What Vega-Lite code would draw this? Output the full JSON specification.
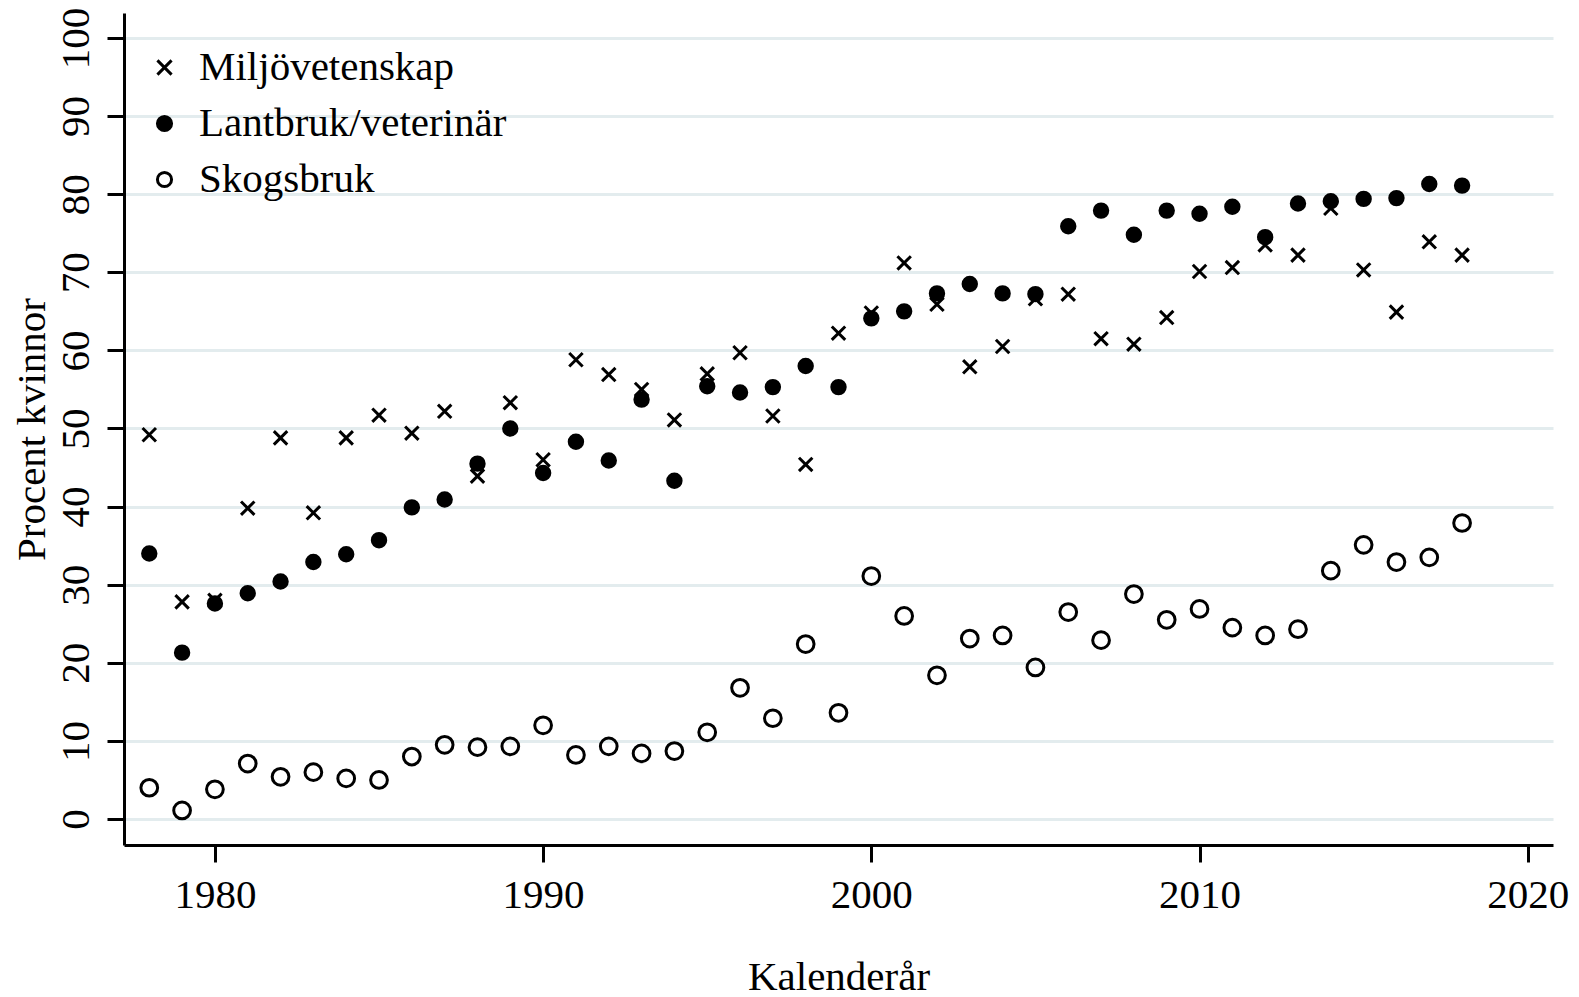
{
  "$schema": "https://vega.github.io/schema/vega-lite/v6.json",
  "width": 1429,
  "height": 832,
  "autosize": {"type": "none"},
  "padding": {"left": 124, "top": 13, "right": 26, "bottom": 152},
  "background": "white",
  "config": {
    "font": "Liberation Serif",
    "view": {"stroke": null},
    "axis": {
      "domainColor": "black", "domainWidth": 3, "tickColor": "black", "tickWidth": 3, "tickSize": 17,
      "labelFontSize": 41, "titleFontSize": 41, "titleFontWeight": "normal", "labelColor": "black", "titleColor": "black",
      "gridColor": "#e3ecee", "gridWidth": 3
    }
  },
  "data": {"values": [
    {"year":1978,"series":"Miljövetenskap","value":49.2},{"year":1979,"series":"Miljövetenskap","value":27.8},{"year":1980,"series":"Miljövetenskap","value":28.0},{"year":1981,"series":"Miljövetenskap","value":39.8},{"year":1982,"series":"Miljövetenskap","value":48.8},{"year":1983,"series":"Miljövetenskap","value":39.2},{"year":1984,"series":"Miljövetenskap","value":48.8},{"year":1985,"series":"Miljövetenskap","value":51.7},{"year":1986,"series":"Miljövetenskap","value":49.4},{"year":1987,"series":"Miljövetenskap","value":52.2},{"year":1988,"series":"Miljövetenskap","value":43.9},{"year":1989,"series":"Miljövetenskap","value":53.3},{"year":1990,"series":"Miljövetenskap","value":46.0},{"year":1991,"series":"Miljövetenskap","value":58.8},{"year":1992,"series":"Miljövetenskap","value":56.9},{"year":1993,"series":"Miljövetenskap","value":55.0},{"year":1994,"series":"Miljövetenskap","value":51.1},{"year":1995,"series":"Miljövetenskap","value":57.0},{"year":1996,"series":"Miljövetenskap","value":59.7},{"year":1997,"series":"Miljövetenskap","value":51.6},{"year":1998,"series":"Miljövetenskap","value":45.4},{"year":1999,"series":"Miljövetenskap","value":62.2},{"year":2000,"series":"Miljövetenskap","value":64.8},{"year":2001,"series":"Miljövetenskap","value":71.2},{"year":2002,"series":"Miljövetenskap","value":65.9},{"year":2003,"series":"Miljövetenskap","value":57.9},{"year":2004,"series":"Miljövetenskap","value":60.5},{"year":2005,"series":"Miljövetenskap","value":66.6},{"year":2006,"series":"Miljövetenskap","value":67.2},{"year":2007,"series":"Miljövetenskap","value":61.5},{"year":2008,"series":"Miljövetenskap","value":60.8},{"year":2009,"series":"Miljövetenskap","value":64.2},{"year":2010,"series":"Miljövetenskap","value":70.1},{"year":2011,"series":"Miljövetenskap","value":70.6},{"year":2012,"series":"Miljövetenskap","value":73.5},{"year":2013,"series":"Miljövetenskap","value":72.2},{"year":2014,"series":"Miljövetenskap","value":78.2},{"year":2015,"series":"Miljövetenskap","value":70.3},{"year":2016,"series":"Miljövetenskap","value":64.9},{"year":2017,"series":"Miljövetenskap","value":73.9},{"year":2018,"series":"Miljövetenskap","value":72.2},
    {"year":1978,"series":"Lantbruk/veterinär","value":34.0},{"year":1979,"series":"Lantbruk/veterinär","value":21.3},{"year":1980,"series":"Lantbruk/veterinär","value":27.6},{"year":1981,"series":"Lantbruk/veterinär","value":28.9},{"year":1982,"series":"Lantbruk/veterinär","value":30.4},{"year":1983,"series":"Lantbruk/veterinär","value":32.9},{"year":1984,"series":"Lantbruk/veterinär","value":33.9},{"year":1985,"series":"Lantbruk/veterinär","value":35.7},{"year":1986,"series":"Lantbruk/veterinär","value":39.9},{"year":1987,"series":"Lantbruk/veterinär","value":40.9},{"year":1988,"series":"Lantbruk/veterinär","value":45.5},{"year":1989,"series":"Lantbruk/veterinär","value":50.0},{"year":1990,"series":"Lantbruk/veterinär","value":44.3},{"year":1991,"series":"Lantbruk/veterinär","value":48.3},{"year":1992,"series":"Lantbruk/veterinär","value":45.9},{"year":1993,"series":"Lantbruk/veterinär","value":53.7},{"year":1994,"series":"Lantbruk/veterinär","value":43.3},{"year":1995,"series":"Lantbruk/veterinär","value":55.4},{"year":1996,"series":"Lantbruk/veterinär","value":54.6},{"year":1997,"series":"Lantbruk/veterinär","value":55.3},{"year":1998,"series":"Lantbruk/veterinär","value":58.0},{"year":1999,"series":"Lantbruk/veterinär","value":55.3},{"year":2000,"series":"Lantbruk/veterinär","value":64.1},{"year":2001,"series":"Lantbruk/veterinär","value":65.0},{"year":2002,"series":"Lantbruk/veterinär","value":67.3},{"year":2003,"series":"Lantbruk/veterinär","value":68.5},{"year":2004,"series":"Lantbruk/veterinär","value":67.3},{"year":2005,"series":"Lantbruk/veterinär","value":67.2},{"year":2006,"series":"Lantbruk/veterinär","value":75.9},{"year":2007,"series":"Lantbruk/veterinär","value":77.9},{"year":2008,"series":"Lantbruk/veterinär","value":74.8},{"year":2009,"series":"Lantbruk/veterinär","value":77.9},{"year":2010,"series":"Lantbruk/veterinär","value":77.5},{"year":2011,"series":"Lantbruk/veterinär","value":78.4},{"year":2012,"series":"Lantbruk/veterinär","value":74.5},{"year":2013,"series":"Lantbruk/veterinär","value":78.8},{"year":2014,"series":"Lantbruk/veterinär","value":79.1},{"year":2015,"series":"Lantbruk/veterinär","value":79.4},{"year":2016,"series":"Lantbruk/veterinär","value":79.5},{"year":2017,"series":"Lantbruk/veterinär","value":81.3},{"year":2018,"series":"Lantbruk/veterinär","value":81.1},
    {"year":1978,"series":"Skogsbruk","value":4.0},{"year":1979,"series":"Skogsbruk","value":1.1},{"year":1980,"series":"Skogsbruk","value":3.8},{"year":1981,"series":"Skogsbruk","value":7.1},{"year":1982,"series":"Skogsbruk","value":5.4},{"year":1983,"series":"Skogsbruk","value":6.0},{"year":1984,"series":"Skogsbruk","value":5.2},{"year":1985,"series":"Skogsbruk","value":5.0},{"year":1986,"series":"Skogsbruk","value":8.0},{"year":1987,"series":"Skogsbruk","value":9.5},{"year":1988,"series":"Skogsbruk","value":9.2},{"year":1989,"series":"Skogsbruk","value":9.3},{"year":1990,"series":"Skogsbruk","value":12.0},{"year":1991,"series":"Skogsbruk","value":8.2},{"year":1992,"series":"Skogsbruk","value":9.3},{"year":1993,"series":"Skogsbruk","value":8.4},{"year":1994,"series":"Skogsbruk","value":8.7},{"year":1995,"series":"Skogsbruk","value":11.1},{"year":1996,"series":"Skogsbruk","value":16.8},{"year":1997,"series":"Skogsbruk","value":12.9},{"year":1998,"series":"Skogsbruk","value":22.4},{"year":1999,"series":"Skogsbruk","value":13.6},{"year":2000,"series":"Skogsbruk","value":31.1},{"year":2001,"series":"Skogsbruk","value":26.0},{"year":2002,"series":"Skogsbruk","value":18.4},{"year":2003,"series":"Skogsbruk","value":23.1},{"year":2004,"series":"Skogsbruk","value":23.5},{"year":2005,"series":"Skogsbruk","value":19.4},{"year":2006,"series":"Skogsbruk","value":26.5},{"year":2007,"series":"Skogsbruk","value":22.9},{"year":2008,"series":"Skogsbruk","value":28.8},{"year":2009,"series":"Skogsbruk","value":25.5},{"year":2010,"series":"Skogsbruk","value":26.9},{"year":2011,"series":"Skogsbruk","value":24.5},{"year":2012,"series":"Skogsbruk","value":23.5},{"year":2013,"series":"Skogsbruk","value":24.3},{"year":2014,"series":"Skogsbruk","value":31.8},{"year":2015,"series":"Skogsbruk","value":35.1},{"year":2016,"series":"Skogsbruk","value":32.9},{"year":2017,"series":"Skogsbruk","value":33.5},{"year":2018,"series":"Skogsbruk","value":37.9}
  ]},
  "mark": {"type": "point", "filled": false, "strokeWidth": 3, "opacity": 1},
  "encoding": {
    "x": {"field": "year", "type": "quantitative",
      "scale": {"domain": [1977.23, 2020.77], "nice": false, "zero": false},
      "axis": {"values": [1980, 1990, 2000, 2010, 2020], "format": "d", "grid": false, "title": "Kalenderår", "labelPadding": 13, "titlePadding": 42}},
    "y": {"field": "value", "type": "quantitative",
      "scale": {"domain": [-3.33, 103.2], "nice": false, "zero": false},
      "axis": {"values": [0,10,20,30,40,50,60,70,80,90,100], "title": "Procent kvinnor", "labelAngle": -90, "labelAlign": "center", "labelBaseline": "bottom", "labelPadding": 10, "titlePadding": 2}},
    "shape": {"field": "series", "type": "nominal",
      "scale": {"domain": ["Miljövetenskap", "Lantbruk/veterinär", "Skogsbruk"], "range": ["M-1,-1L1,1M-1,1L1,-1", "circle", "circle"]},
      "legend": {"title": null, "orient": "none", "legendX": 20, "legendY": 34, "labelFontSize": 41, "labelColor": "black", "labelOffset": 14, "labelLimit": 0, "rowPadding": 14, "padding": 0, "symbolSize": 200, "symbolStrokeWidth": 3}},
    "fill": {"field": "series", "type": "nominal",
      "scale": {"domain": ["Miljövetenskap", "Lantbruk/veterinär", "Skogsbruk"], "range": ["transparent", "black", "transparent"]}},
    "stroke": {"field": "series", "type": "nominal",
      "scale": {"domain": ["Miljövetenskap", "Lantbruk/veterinär", "Skogsbruk"], "range": ["black", "black", "black"]}},
    "size": {"condition": {"test": "datum.series === 'Skogsbruk'", "value": 280}, "value": 180}
  }
}
